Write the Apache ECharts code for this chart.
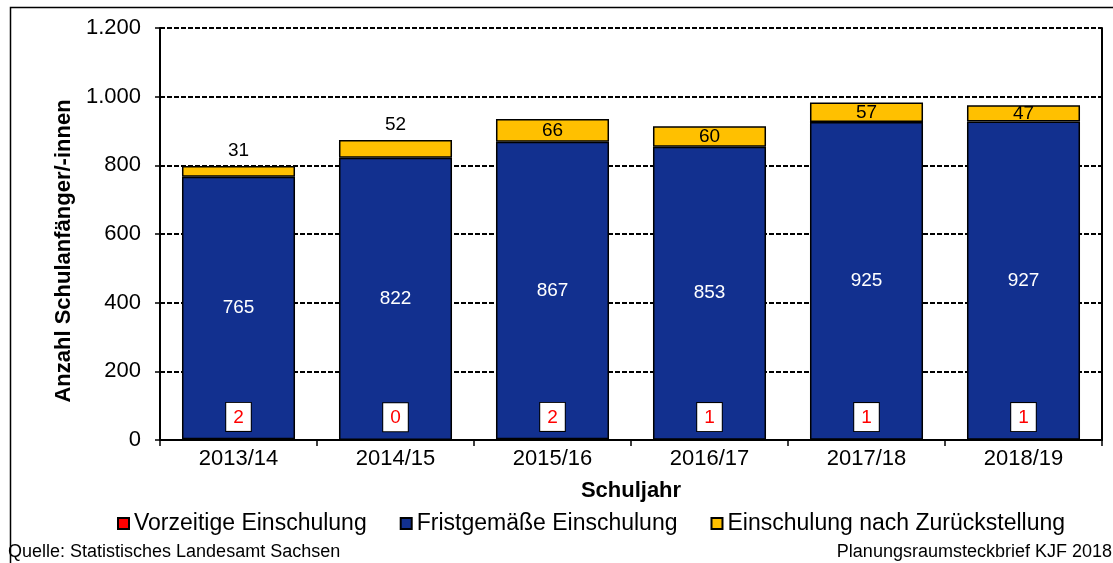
<!DOCTYPE html>
<html>
<head>
<meta charset="utf-8">
<script src="https://cdn.jsdelivr.net/npm/echarts@6/dist/echarts.min.js"></script>
<style>
  html, body { margin: 0; padding: 0; background: #fff; }
  #chart { width: 1113px; height: 563px; }
</style>
</head>
<body>
<div id="chart"></div>
<script>
// Schuljahre
const years = ['2013/14', '2014/15', '2015/16', '2016/17', '2017/18', '2018/19'];
// Vorzeitige Einschulung
const early = [2, 0, 2, 1, 1, 1];
// Fristgemäße Einschulung
const onTime = [765, 822, 867, 853, 925, 927];
// Einschulung nach Zurückstellung
const deferred = [31, 52, 66, 60, 57, 47];
const yTicks = [0, 200, 400, 600, 800, 1000, 1200];

const FONT = '"Liberation Sans", Arial, sans-serif';
const fmt = v => String(v).replace(/\B(?=(\d{3})+(?!\d))/g, '.');

const chart = echarts.init(document.getElementById('chart'));
const edge = { borderColor: '#000', borderWidth: 1.5 };

const option = {
  animation: false,
  textStyle: { fontFamily: FONT },
  grid: { left: 160, right: 11, top: 28, bottom: 123 },
  legend: {
    left: 112, top: 507,
    icon: 'rect', itemWidth: 11, itemHeight: 11, itemGap: 33,
    textStyle: { fontSize: 23, color: '#000', fontFamily: FONT },
    data: ['Vorzeitige Einschulung', 'Fristgemäße Einschulung', 'Einschulung nach Zurückstellung']
  },
  xAxis: {
    type: 'category', data: years,
    name: 'Schuljahr', nameLocation: 'middle', nameGap: 40,
    nameTextStyle: { fontSize: 22, fontWeight: 'bold', color: '#000' },
    axisLine: { lineStyle: { color: '#000', width: 2 } },
    axisTick: { show: true, length: 6, lineStyle: { color: '#000', width: 1.5 } },
    axisLabel: { fontSize: 22, color: '#000', margin: 8 }
  },
  yAxis: [{
    type: 'value', min: yTicks[0], max: yTicks[yTicks.length - 1], interval: 200,
    name: 'Anzahl Schulanfänger/-innen', nameLocation: 'middle', nameGap: 84,
    nameTextStyle: { fontSize: 22, fontWeight: 'bold', color: '#000', padding: [0, 34, 0, 0] },
    axisLine: { show: true, lineStyle: { color: '#000', width: 2 } },
    axisTick: { show: true, length: 5, lineStyle: { color: '#000', width: 1.5 } },
    axisLabel: { fontSize: 22, color: '#000', margin: 19, formatter: fmt },
    splitLine: { lineStyle: { color: '#000', type: [5, 2], width: 2 } }
  }, {
    type: 'value', position: 'right', min: 0, max: 1200,
    axisLine: { show: true, lineStyle: { color: '#000', width: 2 } },
    axisTick: { show: false }, axisLabel: { show: false }, splitLine: { show: false }
  }],
  series: [{
    name: 'Vorzeitige Einschulung', type: 'bar', stack: 'all', barWidth: '72%',
    itemStyle: Object.assign({ color: '#ff0000' }, edge),
    label: {
      show: true, position: 'top', distance: 8,
      color: '#ff0000', fontSize: 19,
      backgroundColor: '#fff', borderColor: '#000', borderWidth: 1,
      padding: [5, 7, 4, 7]
    },
    data: early
  }, {
    name: 'Fristgemäße Einschulung', type: 'bar', stack: 'all',
    itemStyle: Object.assign({ color: '#12308f' }, edge),
    label: { show: true, position: 'inside', color: '#fff', fontSize: 19 },
    data: onTime
  }, {
    name: 'Einschulung nach Zurückstellung', type: 'bar', stack: 'all',
    itemStyle: Object.assign({ color: '#ffc000' }, edge),
    label: { show: true, position: 'inside', color: '#000', fontSize: 19 },
    data: deferred.map((v, i) => i < 2
      ? { value: v, label: { position: 'top', distance: 6 } }
      : v)
  }],
  graphic: [
    { type: 'rect', left: 8, top: 5, shape: { width: 1200, height: 600 },
      style: { fill: 'none', stroke: '#000', lineWidth: 1.5 }, silent: true, z: -1 },
    { type: 'text', left: 8, top: 543,
      style: { text: 'Quelle: Statistisches Landesamt Sachsen', font: '18px ' + FONT, fill: '#000' } },
    { type: 'text', right: 1, top: 543,
      style: { text: 'Planungsraumsteckbrief KJF 2018', font: '18px ' + FONT, fill: '#000' } }
  ]
};
chart.setOption(option);
</script>
</body>
</html>
